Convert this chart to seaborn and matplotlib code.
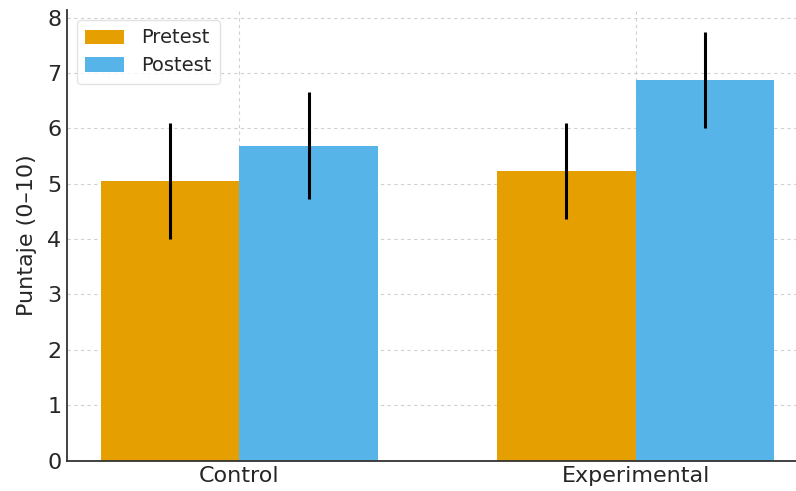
import pandas as pd
import numpy as np
import matplotlib
matplotlib.use("Agg")
import matplotlib.pyplot as plt
import seaborn as sns

# ------------------------------------------
# DATA
# ------------------------------------------
groups = ["Control", "Experimental"]
phases = ["Pretest", "Postest"]
pretest_mean = [5.05, 5.23]
postest_mean = [5.69, 6.87]
pretest_err = [1.04, 0.86]
postest_err = [0.97, 0.87]

df = pd.DataFrame({
    "Grupo": groups * 2,
    "Fase": ["Pretest"] * 2 + ["Postest"] * 2,
    "Puntaje": pretest_mean + postest_mean,
    "Error": pretest_err + postest_err,
})

# ------------------------------------------
# PLOT
# ------------------------------------------
sns.set_style("white")
plt.rcParams["font.family"] = ["DejaVu Sans"]

fig = plt.figure(figsize=(7.96, 4.91), dpi=100)
ax = fig.add_axes([0.0842, 0.0621, 0.931, 0.9175])

palette = {"Pretest": "#E69F00", "Postest": "#56B4E9"}
sns.barplot(data=df, x="Grupo", y="Puntaje", hue="Fase", hue_order=phases,
            order=groups, palette=palette, width=0.7, gap=0,
            errorbar=None, saturation=1, linewidth=0, ax=ax, zorder=2)

# error bars at the bar centres
for bars, phase in zip(ax.containers, phases):
    sub = df[df["Fase"] == phase].set_index("Grupo").loc[groups]
    xs = [b.get_x() + b.get_width() / 2 for b in bars]
    ax.errorbar(xs, sub["Puntaje"], yerr=sub["Error"], fmt="none",
                ecolor="black", elinewidth=2.2, capsize=0, zorder=3)

ax.set_xlim(-0.435, 1.435)
ax.set_ylim(0, 8.14)
ax.set_yticks(range(0, 9))
ax.set_xlabel("")
ax.set_ylabel("Puntaje (0–10)", fontsize=16, labelpad=7)
ax.tick_params(axis="both", labelsize=16, direction="in", length=4,
               color="#333333", pad=4)
ax.grid(True, linestyle=(0, (3, 3)), color="#d0d0d0", linewidth=0.8, zorder=0)
ax.set_axisbelow(True)
for s in ["top", "right"]:
    ax.spines[s].set_visible(False)
for s in ["left", "bottom"]:
    ax.spines[s].set_color("#333333")
    ax.spines[s].set_linewidth(1.3)

ax.legend(title=None, loc="upper left", fontsize=14, frameon=True,
          edgecolor="#dddddd", handlelength=2.0, handleheight=0.75,
          handletextpad=0.85, borderpad=0.45, labelspacing=0.45)

fig.savefig("out.png", dpi=100)
